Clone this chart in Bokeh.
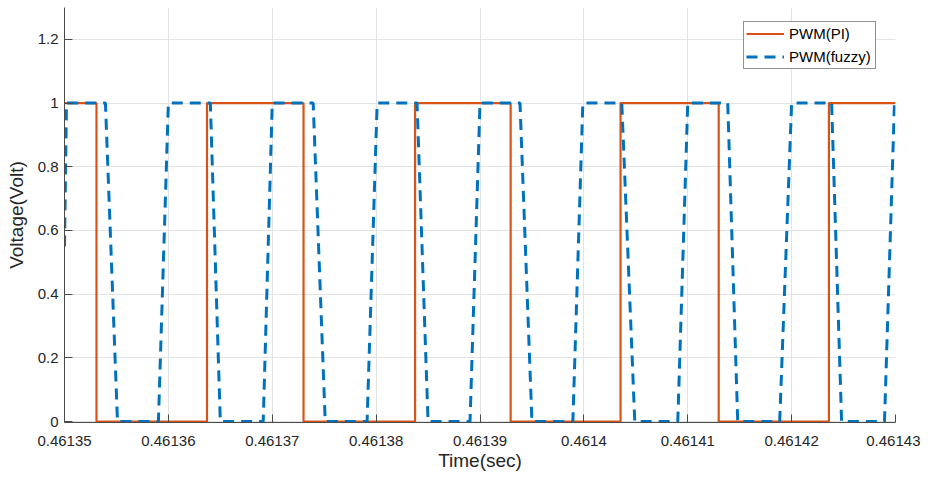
from bokeh.plotting import figure
from bokeh.models import (Range1d, FixedTicker, CustomJSTickFormatter, Legend, LegendItem)
from bokeh.embed import file_html
from bokeh.resources import INLINE

# ---- data ----
# PWM(PI): edge times and level that holds after each edge
t_pi = [0.46135000, 0.46135308, 0.46136372, 0.46137301, 0.46138375,
        0.46139295, 0.46140353, 0.46141298, 0.46142359, 0.46143000]
v_pi = [1, 0, 1, 0, 1, 0, 1, 0, 1, 1]

# PWM(fuzzy): vertices of the trapezoidal waveform
t_fuzzy = [0.46135000, 0.46135019, 0.46135394, 0.46135510, 0.46135904, 0.46136000,
           0.46136404, 0.46136500, 0.46136913, 0.46137000, 0.46137394, 0.46137510,
           0.46137913, 0.46138010, 0.46138394, 0.46138500, 0.46138904, 0.46139000,
           0.46139385, 0.46139500, 0.46139894, 0.46139990, 0.46140365, 0.46140490,
           0.46140904, 0.46141000, 0.46141385, 0.46141481, 0.46141885, 0.46142000,
           0.46142385, 0.46142481, 0.46142894, 0.46142990]
v_fuzzy = [0.55, 1, 1, 0, 0, 1,
           1, 0, 0, 1, 1, 0,
           0, 1, 1, 0, 0, 1,
           1, 0, 0, 1, 1, 0,
           0, 1, 1, 0, 0, 1,
           1, 0, 0, 1]

x_ticks = [0.46135, 0.46136, 0.46137, 0.46138, 0.46139, 0.46140, 0.46141, 0.46142, 0.46143]
x_tick_labels = ["0.46135", "0.46136", "0.46137", "0.46138", "0.46139",
                 "0.4614", "0.46141", "0.46142", "0.46143"]
y_ticks = [0, 0.2, 0.4, 0.6, 0.8, 1.0, 1.2]
y_tick_labels = ["0", "0.2", "0.4", "0.6", "0.8", "1", "1.2"]

FONT = "Liberation Sans"
DARK = "#262626"

p = figure(width=920, height=476, output_backend="svg", toolbar_location=None,
           x_range=Range1d(0.46135, 0.46143), y_range=Range1d(-0.003, 1.3),
           min_border_left=64, min_border_right=25, min_border_top=7, min_border_bottom=54)
p.outline_line_color = None
p.background_fill_color = "white"
p.border_fill_color = "white"

fmt_code = """
let best = 0, d = Infinity;
for (let i = 0; i < vals.length; i++) { const e = Math.abs(vals[i] - tick); if (e < d) { d = e; best = i; } }
return labs[best];
"""
p.xaxis.ticker = FixedTicker(ticks=x_ticks)
p.xaxis.formatter = CustomJSTickFormatter(args=dict(vals=x_ticks, labs=x_tick_labels), code=fmt_code)
p.yaxis.ticker = FixedTicker(ticks=y_ticks)
p.yaxis.formatter = CustomJSTickFormatter(args=dict(vals=y_ticks, labs=y_tick_labels), code=fmt_code)

for ax in (p.xaxis[0], p.yaxis[0]):
    ax.axis_line_color = "#4a4a4a"
    ax.axis_line_width = 1
    ax.major_tick_line_color = "#4a4a4a"
    ax.major_tick_in = 8
    ax.major_tick_out = 0
    ax.minor_tick_line_color = None
    ax.major_label_text_font = FONT
    ax.major_label_text_font_size = "15px"
    ax.major_label_text_color = DARK
    ax.axis_label_text_font = FONT
    ax.axis_label_text_font_size = "19px"
    ax.axis_label_text_font_style = "normal"
    ax.axis_label_text_color = DARK

p.xaxis.axis_label = "Time(sec)"
p.yaxis.axis_label = "Voltage(Volt)"
p.xaxis.major_label_standoff = 13
p.xaxis.axis_label_standoff = 1
p.yaxis.major_label_standoff = 6
p.yaxis.axis_label_standoff = 8

p.xgrid.grid_line_color = "#e3e3e3"
p.ygrid.grid_line_color = "#e3e3e3"
p.xgrid.grid_line_width = 1
p.ygrid.grid_line_width = 1

r_pi = p.step(t_pi, v_pi, mode="after", line_color="#D95319", line_width=2.2)
r_fz = p.line(t_fuzzy, v_fuzzy, line_color="#0072BD", line_width=3, line_dash="11 7")

legend = Legend(items=[LegendItem(label="PWM(PI)", renderers=[r_pi]),
                       LegendItem(label="PWM(fuzzy)", renderers=[r_fz])],
                location=(679, 353))
legend.label_text_font = FONT
legend.label_text_font_size = "15px"
legend.label_text_color = "black"
legend.border_line_color = DARK
legend.border_line_width = 1
legend.background_fill_color = "white"
legend.background_fill_alpha = 1
legend.glyph_width = 38
legend.glyph_height = 19
legend.label_height = 19
legend.label_width = 84
legend.label_standoff = 5
legend.padding = 2
legend.spacing = 4
legend.margin = 0
p.add_layout(legend)

open("out.html", "w").write(file_html(p, INLINE))
